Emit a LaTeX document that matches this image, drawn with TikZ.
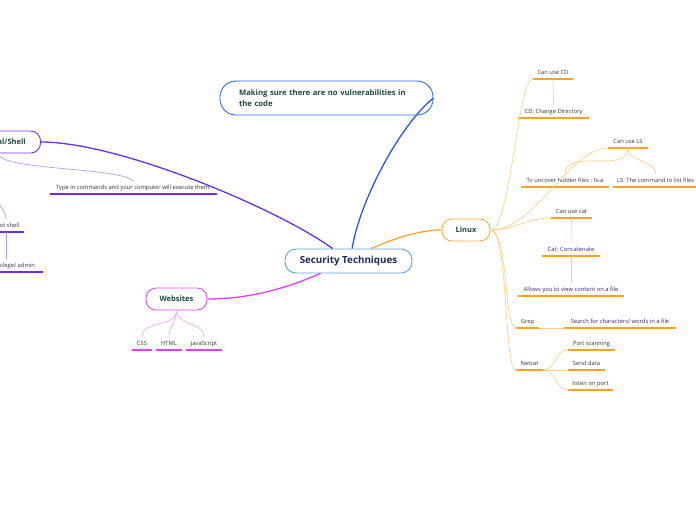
\documentclass[tikz,border=0pt]{standalone}
\usepackage{fontspec}
\setmainfont{Open Sans}
\definecolor{centralblue}{HTML}{5AA6DE}
\definecolor{centraltext}{HTML}{1A2B5C}
\definecolor{topictext}{HTML}{1D4A3A}
\definecolor{leaftext}{HTML}{333333}
\definecolor{mkblue}{HTML}{2D6BF5}
\definecolor{mkline}{HTML}{2A55F0}
\definecolor{termpurple}{HTML}{7A2FF2}
\definecolor{termline}{HTML}{6B2EF0}
\definecolor{termul}{HTML}{6E2CF2}
\definecolor{termthin}{HTML}{B79AF6}
\definecolor{webpink}{HTML}{E84BF5}
\definecolor{webline}{HTML}{E03FF2}
\definecolor{webul}{HTML}{E040FB}
\definecolor{webthin}{HTML}{F4A6FA}
\definecolor{linuxorange}{HTML}{F7A93B}
\definecolor{linuxline}{HTML}{FFA733}
\definecolor{linuxul}{HTML}{FFA21F}
\definecolor{linuxthin}{HTML}{FFCF87}
\begin{document}
\begin{tikzpicture}[x=1pt,y=-1pt,
  central/.style={draw=centralblue,line width=0.9pt,rounded corners=11pt,fill=white,
    minimum width=127pt,minimum height=24pt,text=centraltext,
    font=\bfseries\fontsize{9.8}{11}\selectfont},
  topic/.style={draw=#1,line width=0.9pt,rounded corners=10pt,fill=white,
    minimum height=22pt,inner xsep=12pt,text=topictext,
    font=\bfseries\fontsize{7.5}{9}\selectfont},
  leaf/.style={anchor=south,inner xsep=4pt,inner ysep=3pt,text height=5pt,
    text depth=1.5pt,text=leaftext,font=\fontsize{5.8}{7}\selectfont,
    append after command={(\tikzlastnode.south west)
      edge[draw=#1,line width=1.6pt] (\tikzlastnode.south east)}},
  mainline/.style={draw=#1,line width=1.3pt},
  twig/.style={draw=#1,line width=0.7pt}]
\useasboundingbox (0,0) rectangle (696,520);
\clip (0,0) rectangle (696,520);

% centre
\node[central] (sec) at (348.5,261) {Security Techniques};

% main topics
\node[topic=mkblue,rounded corners=16pt,text width=175pt,inner xsep=19pt,
  align=left,minimum height=34pt,font=\bfseries\fontsize{7.7}{11}\selectfont]
  (code) at (326.5,98) {Making sure there are no vulnerabilities in\\the code};
\node[topic=termpurple,anchor=east,minimum width=84pt] (term) at (41,142) {Terminal/Shell};
\node[topic=webpink,minimum width=61pt] (web) at (176.5,299) {Websites};
\node[topic=linuxorange,minimum width=48pt] (linux) at (466,230) {Linux};

% terminal leaves
\node[leaf=termul,minimum width=167pt] (typein) at (133.5,194)
  {Type in commands and your computer will execute them.};
\node[leaf=termul,minimum width=34pt] (rshell) at (6,232) {Root shell};
\node[leaf=termul,minimum width=74pt] (rpriv) at (6,272) {Root privilege/ admin};

% website leaves
\node[leaf=webul,minimum width=20pt] (css) at (142,350) {CSS};
\node[leaf=webul,minimum width=26pt] (html) at (169,350) {HTML};
\node[leaf=webul,minimum width=36pt] (js) at (204,350) {JavaScript};

% linux leaves
\node[leaf=linuxul,minimum width=40pt] (cd) at (553,79) {Can use CD};
\node[leaf=linuxul,minimum width=70pt] (cdd) at (553.5,118) {CD: Change Directory};
\node[leaf=linuxul,minimum width=40pt] (cls) at (628,148) {Can use LS};
\node[leaf=linuxul,minimum width=88pt] (hidden) at (565,187) {To uncover hidden files : ls-a};
\node[leaf=linuxul,anchor=south west] (lsfiles) at (613,187) {LS: The command to list files};
\node[leaf=linuxul,minimum width=41pt] (ccat) at (571.5,218) {Can use cat};
\node[leaf=linuxul,minimum width=58pt] (concat) at (571,256) {Cat: Concatenate};
\node[leaf=linuxul,minimum width=106pt] (view) at (571,296) {Allows you to view content on a file};
\node[leaf=linuxul,minimum width=23pt] (grep) at (527.5,328) {Grep};
\node[leaf=linuxul,minimum width=112pt] (search) at (620,328) {Search for characters/ words in a file};
\node[leaf=linuxul,minimum width=27pt] (netcat) at (529.5,370) {Netcat};
\node[leaf=linuxul,minimum width=47pt] (port) at (591.5,350) {Port scanning};
\node[leaf=linuxul,minimum width=37pt] (send) at (586.5,370) {Send data};
\node[leaf=linuxul,minimum width=45pt] (listen) at (590.5,390) {listen on port};

% main branches
\draw[mainline=termline] (sec.142) .. controls (280,210) and (120,142) .. (term.east);
\draw[mainline=mkline] (sec.74) .. controls (360,200) and (400,125) .. (code.east);
\draw[mainline=linuxline] (sec.29) .. controls (395,238) and (420,230) .. (linux.west);
\draw[mainline=webline] (sec.204) .. controls (300,282) and (260,299) .. (web.east);

% terminal twigs
\draw[twig=termthin] (term.south) .. controls +(0,17) and +(-13,-14) .. (typein.north);
\draw[twig=termthin] (term.south) .. controls +(-29,37) and +(0,-19) .. (rshell.north);
\draw[twig=termthin] (rshell.south) -- (rpriv.north);

% website twigs
\draw[twig=webthin] (web.south) to[out=-90,in=90] (css.north);
\draw[twig=webthin] (web.south) to[out=-90,in=90] (html.north);
\draw[twig=webthin] (web.south) to[out=-90,in=90] (js.north);

% linux twigs
\draw[twig=linuxthin] (linux.east) .. controls +(20,0) and +(-15,0) .. (cd.south west);
\draw[twig=linuxthin] (cd.south) -- (cdd.north);
\draw[twig=linuxthin] (linux.east) .. controls +(45,0) and +(-38,0) .. (cls.south west);
\draw[twig=linuxthin] (cls.south) to[out=-90,in=90] (hidden.north);
\draw[twig=linuxthin] (cls.south) to[out=-90,in=90] (lsfiles.north);
\draw[twig=linuxthin] (linux.east) .. controls +(25,0) and +(-25,0) .. (ccat.south west);
\draw[twig=linuxthin] (ccat.south) -- (concat.north);
\draw[twig=linuxthin] (concat.south) -- (view.north);
\draw[twig=linuxthin] (linux.east) .. controls +(18,0) and +(-12,0) .. (grep.south west);
\draw[twig=linuxthin] (grep.south east) -- (search.south west);
\draw[twig=linuxthin] (linux.east) .. controls +(18,0) and +(-12,0) .. (netcat.south west);
\draw[twig=linuxthin] (netcat.south east) .. controls +(12,0) and +(-12,0) .. (port.south west);
\draw[twig=linuxthin] (netcat.south east) -- (send.south west);
\draw[twig=linuxthin] (netcat.south east) .. controls +(12,0) and +(-12,0) .. (listen.south west);
\end{tikzpicture}
\end{document}
